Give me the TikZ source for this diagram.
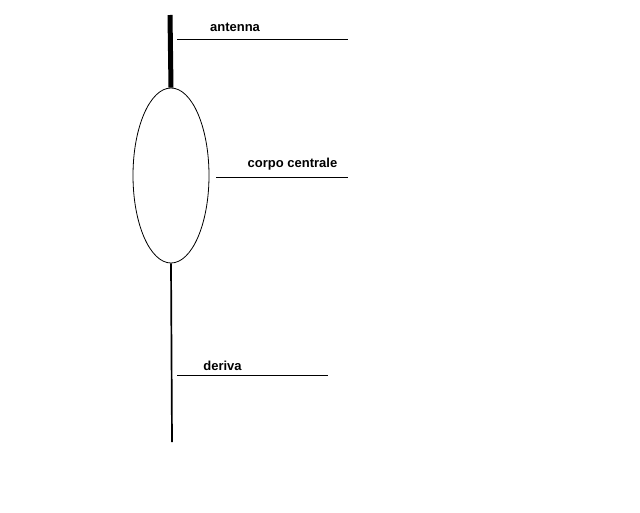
\documentclass[tikz,border=0pt]{standalone}
\usepackage{fontspec}
\setmainfont{Liberation Sans}
\usetikzlibrary{shapes.geometric,positioning}

\begin{document}
\begin{tikzpicture}[x=1pt,y=-1pt,
    label/.style={font=\fontsize{13}{15}\selectfont\bfseries, inner sep=0pt},
    leader/.style={line width=1pt}]
    \useasboundingbox (0,0) rectangle (640,512);
    % Buoy body
    \node[draw, ellipse, line width=0.8pt, minimum width=76, minimum height=175, inner sep=0pt] (body) at (171,175.5) {};
    \coordinate (antTop) at (170,15);
    \coordinate (derBot) at (172,442);
    \draw[line width=5pt] (antTop) -- (body.north);
    \draw[line width=1.7pt] (body.south) -- (derBot);

    % Labels
    \node[label] (antenna) at (235,27) {antenna};
    \node[label] (corpo) at (292.5,164) {corpo centrale};
    \node[label] (deriva) at (222.5,366) {deriva};

    % Leader lines
    \coordinate (antA) at (177,39);  \coordinate (antB) at (348,39);
    \coordinate (corA) at (216,177); \coordinate (corB) at (348,177);
    \coordinate (derA) at (177,375); \coordinate (derB) at (328,375);
    \draw[leader] (antA) -- (antB);
    \draw[leader] (corA) -- (corB);
    \draw[leader] (derA) -- (derB);
\end{tikzpicture}
\end{document}
